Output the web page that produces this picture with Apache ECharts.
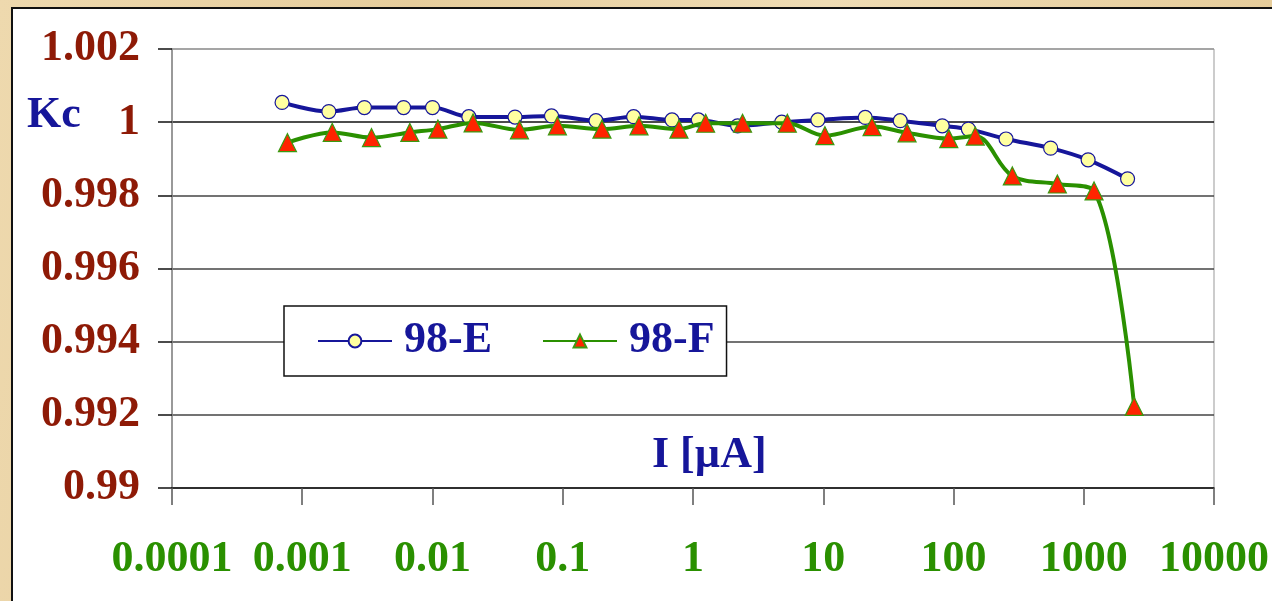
<!DOCTYPE html>
<html>
<head>
<meta charset="utf-8">
<script src="https://cdn.jsdelivr.net/npm/echarts@6/dist/echarts.min.js"></script>
<style>
  html, body { margin: 0; padding: 0; }
  body {
    width: 1272px; height: 601px; overflow: hidden; position: relative;
    background: linear-gradient(100deg, #eed9ae 0%, #e6cd9c 30%, #efdcb4 60%, #e4c995 100%);
  }
  #panel {
    position: absolute; left: 11px; top: 7px; width: 1290px; height: 620px;
    background: #ffffff; border: 2px solid #111; box-sizing: border-box;
  }
  #chart { position: absolute; left: 0; top: 0; width: 1272px; height: 601px; }
</style>
</head>
<body>
<div id="panel"></div>
<div id="chart"></div>
<script>
// Current I [µA] and coefficient Kc for the two samples
const currents98E = [0.0007, 0.0016, 0.003, 0.006, 0.01, 0.019, 0.043, 0.082, 0.18, 0.35, 0.69, 1.1, 2.2, 4.8, 9.1, 21, 39, 82, 130, 253, 557, 1080, 2170];
const kc98E = [1.00054, 1.00029, 1.0004, 1.0004, 1.0004, 1.00015, 1.00014, 1.00017, 1.00004, 1.00015, 1.00006, 1.00006, 0.9999, 1.0, 1.00006, 1.00013, 1.00004, 0.9999, 0.99981, 0.99954, 0.99929, 0.99897, 0.99845];
const currents98F = [0.00077, 0.0017, 0.0034, 0.0067, 0.011, 0.0205, 0.0465, 0.091, 0.2, 0.385, 0.78, 1.25, 2.4, 5.3, 10.3, 23.7, 44, 92, 147, 283, 627, 1200, 2440];
const kc98F = [0.99944, 0.99972, 0.99958, 0.99972, 0.99981, 0.99998, 0.99979, 0.9999, 0.99981, 0.9999, 0.99981, 0.99997, 0.99997, 0.99997, 0.99963, 0.99988, 0.99971, 0.99955, 0.99962, 0.99853, 0.99831, 0.99812, 0.99223];

const seriesNames = ['98-E', '98-F'];
const xTickLabels = ['0.0001', '0.001', '0.01', '0.1', '1', '10', '100', '1000', '10000'];
const yTickLabels = ['0.99', '0.992', '0.994', '0.996', '0.998', '1', '1.002'];
const xAxisTitle = 'I [µA]';
const yAxisTitle = 'Kc';

const SERIF = "'Liberation Serif', 'Times New Roman', serif";
const BLUE = '#16169a';
const GREEN = '#2a9000';

function pairs(xs, ys) { return xs.map((x, i) => [x, ys[i]]); }

const chart = echarts.init(document.getElementById('chart'), null, { renderer: 'canvas' });
chart.setOption({
  backgroundColor: 'transparent',
  animation: false,
  grid: {
    left: 172, top: 49, right: 56, bottom: 113,
    show: true, borderColor: '#999', borderWidth: 1, backgroundColor: 'transparent'
  },
  xAxis: {
    type: 'log', logBase: 10, min: 0.0001, max: 10000,
    axisLine: { lineStyle: { color: '#222', width: 1.5 } },
    axisTick: { show: true, length: 17, lineStyle: { color: '#555', width: 1.5 } },
    splitLine: { show: false },
    minorTick: { show: false },
    axisLabel: {
      margin: 50,
      fontFamily: SERIF, fontWeight: 'bold', fontSize: 44, color: GREEN,
      formatter: v => xTickLabels[Math.round(Math.log10(v)) + 4] ?? ''
    }
  },
  yAxis: {
    type: 'value', min: 0.99, max: 1.002, interval: 0.002,
    axisLine: { show: true, lineStyle: { color: '#888', width: 1.5 } },
    axisTick: { show: true, length: 14, lineStyle: { color: '#111', width: 1.5 } },
    splitLine: { show: true, lineStyle: { color: ['#333', '#444', '#444', '#444', '#444', '#111', '#999'], width: 1.5 } },
    axisLabel: {
      margin: 32,
      fontFamily: SERIF, fontWeight: 'bold', fontSize: 44, color: '#8e1a06',
      formatter: v => yTickLabels[Math.round((v - 0.99) / 0.002)] ?? ''
    }
  },
  legend: {
    left: 284, top: 306,
    padding: [13, 12, 13, 33],
    backgroundColor: '#ffffff', borderColor: '#111', borderWidth: 1.5, borderRadius: 0,
    itemWidth: 74, itemHeight: 16, itemGap: 50,
    textStyle: { fontFamily: SERIF, fontWeight: 'bold', fontSize: 44, color: BLUE, padding: [0, 0, 0, 7] },
    data: seriesNames
  },
  graphic: [
    {
      type: 'text', left: 27, top: 94,
      style: { text: yAxisTitle, fontFamily: SERIF, fontWeight: 'bold', fontSize: 44, fill: BLUE }
    },
    {
      type: 'text', left: 652, top: 434,
      style: { text: xAxisTitle, fontFamily: SERIF, fontWeight: 'bold', fontSize: 44, fill: BLUE }
    }
  ],
  series: [
    {
      name: seriesNames[0], type: 'line', smooth: 0.35, z: 3,
      data: pairs(currents98E, kc98E),
      lineStyle: { color: BLUE, width: 4 },
      itemStyle: { color: '#ffffa0', borderColor: BLUE, borderWidth: 1.2 },
      symbol: 'circle', symbolSize: 14
    },
    {
      name: seriesNames[1], type: 'line', smooth: 0.35, z: 4,
      data: pairs(currents98F, kc98F),
      lineStyle: { color: GREEN, width: 4 },
      itemStyle: { color: '#ff2400', borderColor: '#3a9a10', borderWidth: 1.2 },
      symbol: 'triangle', symbolSize: [18, 18]
    }
  ]
});
</script>
</body>
</html>
